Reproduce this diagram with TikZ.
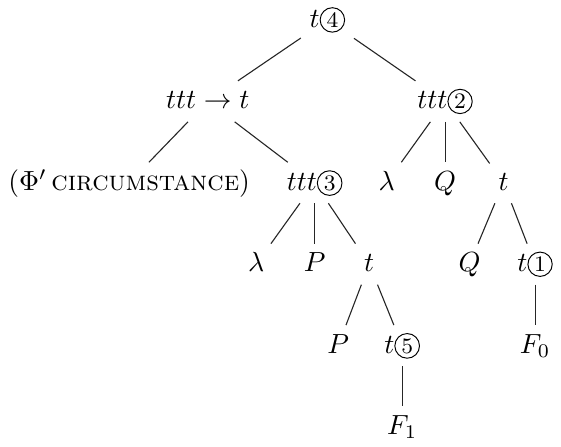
\documentclass[tikz,border=0pt]{standalone}
\usepackage{amsmath,amssymb}
\usepackage{fontspec}
\usepackage{tikz}
\usetikzlibrary{calc,positioning}
\newcommand{\cnum}[1]{\tikz[baseline=(cn.base)]\node[circle,draw,line width=0.35pt,inner sep=0.7pt,font=\footnotesize](cn){#1};}

\begin{document}
\begin{tikzpicture}[
    tnode/.style={inner sep=3pt,text height=1.6ex,text depth=0.35ex},
    edge/.style={black!85,line width=0.4pt},
    on grid,node distance=29.4pt
  ]
    % level 0 and 1
    \node[tnode] (top) {$t$\cnum{4}};
    \node[tnode,below left=29.4pt and 43.2pt of top] (imp) {$ttt\rightarrow t$};
    \node[tnode,below right=29.4pt and 42.5pt of top] (tttb) {$ttt$\cnum{2}};
    % level 2
    \node[tnode,below left=29.4pt and 28.4pt of imp] (circ) {$(\Phi'$\,\textsc{circumstance}$)$};
    \node[tnode,below right=29.4pt and 38.6pt of imp] (tttc) {$ttt$\cnum{3}};
    \node[tnode,below left=29.4pt and 21.1pt of tttb] (lamb) {$\lambda$};
    \node[tnode,below=of tttb] (qb) {$Q$};
    \node[tnode,below right=29.4pt and 21.1pt of tttb] (tb) {$t$};
    % level 3
    \node[tnode,below left=29.4pt and 21.1pt of tttc] (lamc) {$\lambda$};
    \node[tnode,below=of tttc] (pc) {$P$};
    \node[tnode,below right=29.4pt and 19.7pt of tttc] (tc) {$t$};
    \node[tnode,below left=29.4pt and 12.3pt of tb] (qd) {$Q$};
    \node[tnode,below right=29.4pt and 11.4pt of tb] (tone) {$t$\cnum{1}};
    % level 4 and 5
    \node[tnode,below left=29.4pt and 11.2pt of tc] (pd) {$P$};
    \node[tnode,below right=29.4pt and 11.9pt of tc] (tfive) {$t$\cnum{5}};
    \node[tnode,below=of tone] (fzero) {$F_0$};
    \node[tnode,below=of tfive] (fone) {$F_1$};

    \draw[edge] (top) -- (imp);
    \draw[edge] (top) -- (tttb);
    \draw[edge] (imp) -- (circ);
    \draw[edge] (imp) -- (tttc);
    \draw[edge] (tttb) -- (lamb);
    \draw[edge] (tttb) -- (qb);
    \draw[edge] (tttb) -- (tb);
    \draw[edge] (tttc) -- (lamc);
    \draw[edge] (tttc) -- (pc);
    \draw[edge] (tttc) -- (tc);
    \draw[edge] (tb) -- (qd);
    \draw[edge] (tb) -- (tone);
    \draw[edge] (tc) -- (pd);
    \draw[edge] (tc) -- (tfive);
    \draw[edge] (tone) -- (fzero);
    \draw[edge] (tfive) -- (fone);

    \useasboundingbox ($(top)+(-115.8pt,6.3pt)$) rectangle ($(top)+(81.1pt,-150.9pt)$);
  \end{tikzpicture}
\end{document}
